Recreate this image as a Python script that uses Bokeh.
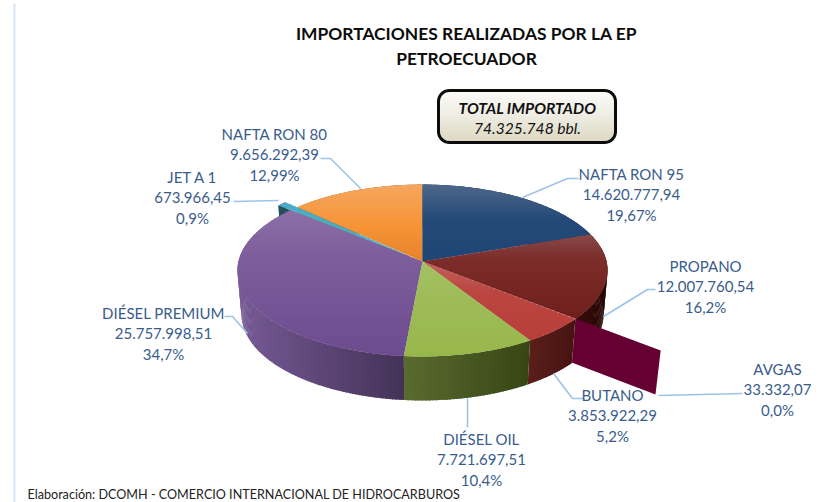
import numpy as np
from bokeh.plotting import figure
from bokeh.models import Range1d
from bokeh.core.properties import value
from bokeh.embed import file_html
from bokeh.resources import INLINE

# ---------- data ----------
products = ["NAFTA RON 95", "PROPANO", "AVGAS", "BUTANO", "DIÉSEL OIL",
            "DIÉSEL PREMIUM", "JET A 1", "NAFTA RON 80"]
volumes = [14620777.94, 12007760.54, 33332.07, 3853922.29, 7721697.51,
           25757998.51, 673966.45, 9656292.39]
volume_labels = ["14.620.777,94", "12.007.760,54", "33.332,07", "3.853.922,29",
                 "7.721.697,51", "25.757.998,51", "673.966,45", "9.656.292,39"]
share_labels = ["19,67%", "16,2%", "0,0%", "5,2%", "10,4%", "34,7%", "0,9%", "12,99%"]
title_lines = ["IMPORTACIONES REALIZADAS POR LA EP", "PETROECUADOR"]
total_lines = ["TOTAL IMPORTADO", "74.325.748 bbl."]
footer = "Elaboración: DCOMH - COMERCIO INTERNACIONAL DE HIDROCARBUROS"

# ---------- styling / layout ----------
FONT = "Lato"
LABEL_COLOR = "#3a5c8d"
LEADER = "#9dc3e8"
TOP_STOPS = {
    "NAFTA RON 95": [(0, "#4f6788"), (0.45, "#254a78"), (1, "#1f4576")],
    "PROPANO": [(0, "#87494a"), (0.3, "#7c2c29"), (1, "#6f1f1c")],
    "BUTANO": [(0, "#c2625c"), (0.4, "#bb4540"), (1, "#b83f3b")],
    "DIÉSEL OIL": [(0, "#a3c163"), (0.5, "#9cbb55"), (1, "#97b74c")],
    "DIÉSEL PREMIUM": [(0, "#8d70a8"), (0.3, "#7e5e9c"), (1, "#6c4c8e")],
    "JET A 1": [(0, "#4bacc6"), (1, "#4bacc6")],
    "NAFTA RON 80": [(0, "#f6a660"), (0.55, "#f79336"), (1, "#e5832c")],
}
WALL_STOPS = {
    "NAFTA RON 95": ["#14304f", "#14304f"],
    "PROPANO": ["#3a0d0a", "#250705"],
    "BUTANO": ["#5c1f1c", "#471412"],
    "DIÉSEL OIL": ["#5a6c30", "#384615"],
    "DIÉSEL PREMIUM": ["#775a96", "#443358"],
    "JET A 1": ["#24505c", "#24505c"],
    "NAFTA RON 80": ["#a5611f", "#a5611f"],
}
EXPLODE = {"JET A 1": 0.10}
SPIKE_COLOR = "#660033"
LABEL_POS = {  # centre x, y of first line
    "NAFTA RON 95": (631, 173), "PROPANO": (705, 265), "AVGAS": (777, 368),
    "BUTANO": (612, 394), "DIÉSEL OIL": (481, 438), "DIÉSEL PREMIUM": (163, 312),
    "JET A 1": (192, 176), "NAFTA RON 80": (274, 133),
}
LEADERS = {
    "NAFTA RON 95": ([578, 567, 522], [178, 178, 197]),
    "PROPANO": ([655, 647, 603], [289, 289, 316]),
    "AVGAS": ([742, 658], [393, 395]),
    "BUTANO": ([583, 572, 553], [398, 398, 373]),
    "DIÉSEL OIL": ([467, 467], [398, 427]),
    "DIÉSEL PREMIUM": ([224, 232, 247], [316, 316, 333]),
    "JET A 1": ([233, 278], [201, 200]),
    "NAFTA RON 80": ([320, 330, 360], [158, 158, 188]),
}


def hex2rgb(c):
    return np.array([int(c[i:i + 2], 16) for i in (1, 3, 5)], float)


def lerp(stops, t):
    t = min(max(t, 0), 1)
    for (a, ca), (b, cb) in zip(stops[:-1], stops[1:]):
        if t <= b:
            f = (t - a) / (b - a)
            rgb = hex2rgb(ca) * (1 - f) + hex2rgb(cb) * f
            return "#%02x%02x%02x" % tuple(int(round(v)) for v in rgb)
    return stops[-1][1]


# perspective projection of the disc
CX, CY_TOP, CY_BOT = 422.0, 261.0, 305.0
RX_TOP, RX_BOT, RY_TOP, RY_BOT, K = 184.0, 180.0, 85.0, 85.0, 0.105


def project(theta, r, bottom=False, off=(0.0, 0.0)):
    u = r * np.sin(theta) + off[0]
    v = r * np.cos(theta) + off[1]
    w = 1 + K * v
    rx, ry, cy = (RX_BOT, RY_BOT, CY_BOT) if bottom else (RX_TOP, RY_TOP, CY_TOP)
    return CX + rx * u / w, cy - ry * v / w


def clip_band(xs, ys, lo, hi):
    def clip(px, py, keep, cross):
        ox, oy = [], []
        n = len(px)
        for i in range(n):
            x0, y0, x1, y1 = px[i], py[i], px[(i + 1) % n], py[(i + 1) % n]
            k0, k1 = keep(y0), keep(y1)
            if k0:
                ox.append(x0); oy.append(y0)
            if k0 != k1:
                f = (cross - y0) / (y1 - y0)
                ox.append(x0 + f * (x1 - x0)); oy.append(cross)
        return ox, oy
    px, py = clip(list(xs), list(ys), lambda y: y >= lo, lo)
    if not px:
        return [], []
    return clip(px, py, lambda y: y <= hi, hi)


def banded(xs, ys, stops, step=2.0, overlap=1.0):
    lo, hi = min(ys), max(ys)
    bx, by, bc = [], [], []
    y = lo
    while y < hi:
        px, py = clip_band(xs, ys, y, y + step + overlap)
        if len(px) >= 3:
            bx.append(px); by.append(py)
            bc.append(lerp(stops, (y + step / 2 - lo) / max(hi - lo, 1)))
        y += step
    return bx, by, bc


p = figure(width=828, height=502, x_range=Range1d(0, 828), y_range=Range1d(502, 0),
           output_backend="svg", toolbar_location=None, min_border=0,
           outline_line_color=None, background_fill_color="white",
           border_fill_color="white")
p.axis.visible = False
p.grid.visible = False

# frame line at the left
p.line([14, 14], [3, 502], line_color="#d6e4f4", line_width=2)

# slice angles come straight from the values
total = sum(volumes)
edges = np.concatenate([[0.0], np.cumsum(volumes)]) / total * 2 * np.pi
slices = {n: (edges[i], edges[i + 1]) for i, n in enumerate(products)}

# walls
wall_order = ["JET A 1", "NAFTA RON 80", "NAFTA RON 95", "PROPANO", "DIÉSEL PREMIUM",
              "BUTANO", "DIÉSEL OIL"]
wx, wy, wc = [], [], []
for name in wall_order:
    a0, a1 = slices[name]
    off = (0.0, 0.0)
    if name in EXPLODE:
        mid = (a0 + a1) / 2
        off = (EXPLODE[name] * np.sin(mid), EXPLODE[name] * np.cos(mid))
    th = np.arange(a0, a1 + 1e-6, np.radians(1.0))
    th = np.append(th, a1)
    xs_t = [project(t, 1, False, off)[0] for t in th]
    lo_x, hi_x = min(xs_t), max(xs_t)
    if name == "DIÉSEL PREMIUM":
        hi_x = project(a0, 1)[0]
    for t0, t1 in zip(th[:-1], th[1:]):
        t1b = min(t1 + np.radians(0.5), a1)
        x0, y0 = project(t0, 1, False, off)
        x1, y1 = project(t1b, 1, False, off)
        x2, y2 = project(t1b, 1, True, off)
        x3, y3 = project(t0, 1, True, off)
        wx.append([x0, x1, x2, x3]); wy.append([y0, y1, y2, y3])
        f = (x0 - lo_x) / max(hi_x - lo_x, 1)
        wc.append(lerp([(0, WALL_STOPS[name][0]), (1, WALL_STOPS[name][1])], f))
    if name in EXPLODE:  # the cut face of the pulled-out slice
        x0, y0 = project(a0, 0, False, off); x1, y1 = project(a0, 1, False, off)
        x2, y2 = project(a0, 1, True, off); x3, y3 = project(a0, 0, True, off)
        wx.append([x0, x1, x2, x3]); wy.append([y0, y1, y2, y3])
        wc.append(WALL_STOPS[name][0])
p.patches(wx, wy, fill_color=wc, line_color=None)

# tops
top_order = ["DIÉSEL PREMIUM", "NAFTA RON 80", "NAFTA RON 95", "PROPANO", "BUTANO",
             "DIÉSEL OIL", "JET A 1"]
tx, ty, tc = [], [], []
for name in top_order:
    a0, a1 = slices[name]
    off = (0.0, 0.0)
    if name in EXPLODE:
        mid = (a0 + a1) / 2
        off = (EXPLODE[name] * np.sin(mid), EXPLODE[name] * np.cos(mid))
    th = np.linspace(a0, a1, max(int(np.degrees(a1 - a0)) + 2, 3))
    pts = [project(t, 1, False, off) for t in th]
    xs = [project(0, 0, False, off)[0]] + [q[0] for q in pts]
    ys = [project(0, 0, False, off)[1]] + [q[1] for q in pts]
    bx, by, bc = banded(xs, ys, TOP_STOPS[name])
    tx += bx; ty += by; tc += bc
p.patches(tx, ty, fill_color=tc, line_color=None)

# the zero-width AVGAS slice is drawn as a single radial wall
a = slices["AVGAS"][0]
r_avgas = 1.5
q = [project(a, 1), project(a, r_avgas), project(a, r_avgas, True), project(a, 1, True)]
p.patch([c[0] for c in q], [c[1] for c in q], fill_color=SPIKE_COLOR, line_color=None)

# leader lines
for name in products:
    lx, ly = LEADERS[name]
    p.line(lx, ly, line_color=LEADER, line_width=1.6)

# data labels
for name, vol, share in zip(products, volume_labels, share_labels):
    cx, y0 = LABEL_POS[name]
    p.text([cx] * 3, [y0, y0 + 20.5, y0 + 41], text=[name, vol, share],
           text_font=value(FONT), text_font_size="15px", text_color=LABEL_COLOR,
           text_align="center", text_baseline="middle")

# title
p.text([466, 466], [33, 58], text=title_lines, text_font=value(FONT),
       text_font_size="17.4px", text_font_style="bold", text_color="#0c0c0c",
       text_align="center", text_baseline="middle")

# total box
BX0, BX1, BY0, BY1, RAD = 438.0, 615.0, 90.0, 142.0, 11.0
ang = np.linspace(0, np.pi / 2, 10)
box_x = np.concatenate([BX1 - RAD + RAD * np.sin(ang), BX1 - RAD + RAD * np.cos(ang),
                        BX0 + RAD - RAD * np.sin(ang), BX0 + RAD - RAD * np.cos(ang)])
box_y = np.concatenate([BY0 + RAD - RAD * np.cos(ang), BY1 - RAD + RAD * np.sin(ang),
                        BY1 - RAD + RAD * np.cos(ang), BY0 + RAD - RAD * np.sin(ang)])
bx, by, bc = banded(box_x.tolist(), box_y.tolist(), [(0, "#fbfbf9"), (0.5, "#eeece2"), (1, "#dbd7bf")])
p.patches(bx, by, fill_color=bc, line_color=None)
p.patch(box_x, box_y, fill_color=None, line_color="#0c0c0c", line_width=3)
p.text([527], [107], text=[total_lines[0]], text_font=value(FONT), text_font_size="15.7px",
       text_font_style="bold italic", text_color="#111111", text_align="center",
       text_baseline="middle")
p.text([527], [127], text=[total_lines[1]], text_font=value(FONT), text_font_size="15.6px",
       text_font_style="italic", text_color="#111111", text_align="center",
       text_baseline="middle")

# footer
p.text([27], [494], text=[footer], text_font=value(FONT), text_font_size="12.6px",
       text_color="#222222", text_align="left", text_baseline="middle")

open("out.html", "w").write(file_html(p, INLINE))
